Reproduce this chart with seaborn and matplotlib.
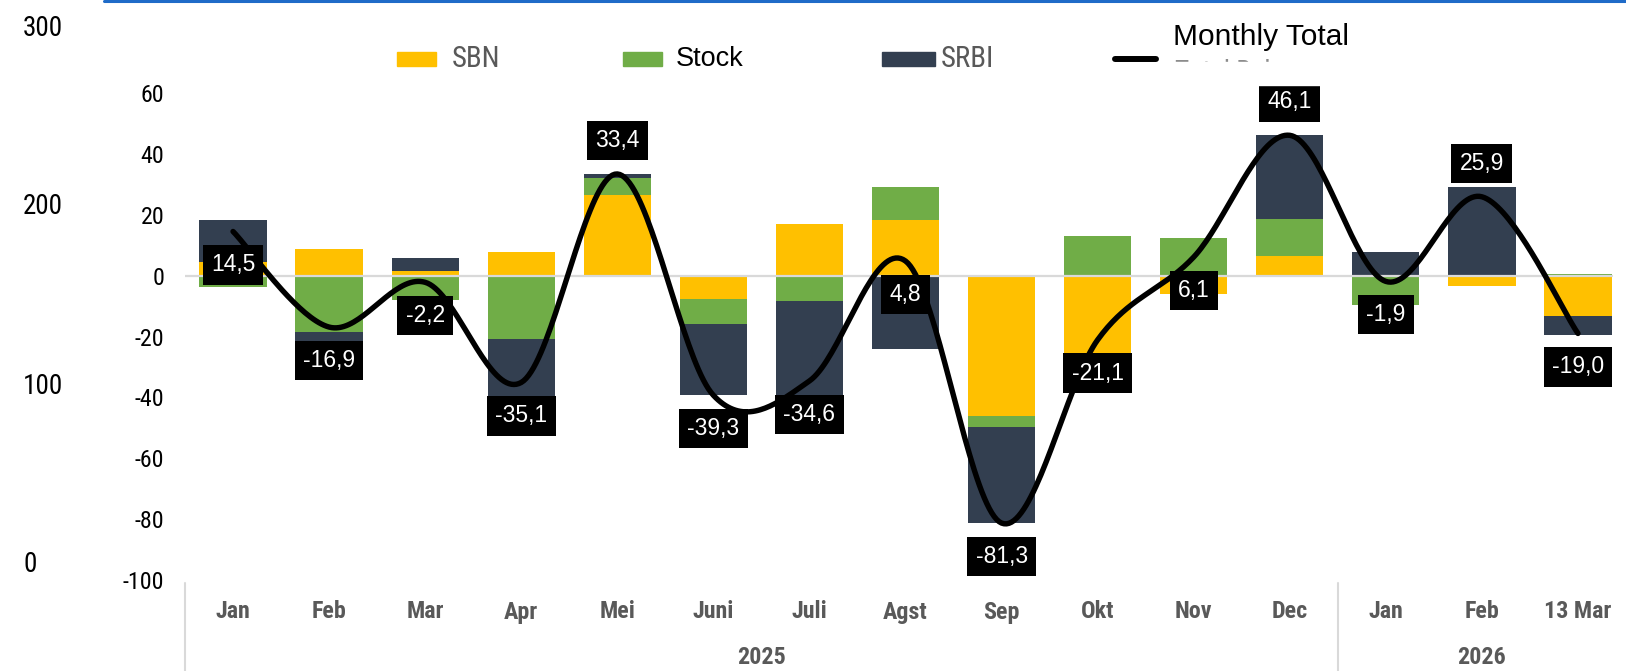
import numpy as np
import matplotlib
matplotlib.use("Agg")
import matplotlib.pyplot as plt
import matplotlib.transforms as mtransforms
from matplotlib import font_manager
from matplotlib.font_manager import FontProperties
from matplotlib.lines import Line2D
from matplotlib.patches import Rectangle
import seaborn as sns

# data (Rp trillion, monthly flows)
months = ["Jan", "Feb", "Mar", "Apr", "Mei", "Juni", "Juli", "Agst", "Sep",
          "Okt", "Nov", "Dec", "Jan", "Feb", "13 Mar"]
years = ["2025", "2026"]
year_span = [(0, 11), (12, 14)]
sbn = [4.6, 8.8, 1.5, 7.7, 26.5, -7.8, 17.0, 18.2, -46.0, -25.7, -6.0, 6.5, 0.0, -3.3, -13.2]
stock = [-3.7, -18.4, -7.9, -20.9, 5.6, -8.2, -8.5, 10.8, -3.6, 12.9, 12.2, 12.1, -9.8, 0.0, 0.5]
srbi = [13.6, -7.3, 4.2, -21.9, 1.3, -23.3, -43.1, -24.2, -31.7, -8.3, -0.1, 27.5, 7.9, 29.2, -6.3]
monthly_total = [14.5, -16.9, -2.2, -35.1, 33.4, -39.3, -34.6, 4.8, -81.3, -21.1, 6.1, 46.1, -1.9, 25.9, -19.0]
left_ticks = [-100, -80, -60, -40, -20, 0, 20, 40, 60]
outer_ticks = [0, 100, 200, 300]

SBN_C, STOCK_C, SRBI_C = "#FFC000", "#70AD47", "#333F50"
GREY = "#595959"

sns.set_theme(style="white")
plt.rcParams["font.family"] = ["Liberation Sans", "DejaVu Sans"]


def narrow_font(bold=False):
    # a condensed sans if the box has one, else plain Liberation Sans
    prefs = ["Liberation Sans Narrow", "Roboto Condensed", "Open Sans Condensed", "DejaVu Sans"]
    found = {}
    for f in font_manager.fontManager.ttflist:
        if f.stretch in ("normal", 500) or f.style != "normal":
            continue
        is_bold = f.weight in ("bold", 700) or (isinstance(f.weight, int) and f.weight >= 600)
        if is_bold == bold and f.name in prefs:
            found.setdefault(f.name, f.fname)
    for p in prefs:
        if p in found:
            return FontProperties(fname=found[p]), True
    return FontProperties(family="Liberation Sans", weight="bold" if bold else "normal"), False


NARROW, HAS_NARROW = narrow_font(False)
NARROW_B, HAS_NARROW_B = narrow_font(True)
k_n = 1.15 if HAS_NARROW else 1.0
k_b = 1.15 if HAS_NARROW_B else 1.0

W, H = 1626, 671


def fx(px):
    return px / W


def fy(py):
    return 1 - py / H


def fp(base, size):
    p = base.copy()
    p.set_size(size)
    return p


def smooth_curve(xs, ys, n=40):
    # Excel-like smoothed line (Catmull-Rom as cubic Bezier)
    pts = np.column_stack([xs, ys]).astype(float)
    padded = np.vstack([pts[0], pts, pts[-1]])
    t = np.linspace(0, 1, n)[:, None]
    out = []
    for i in range(len(pts) - 1):
        p0, p1, p2, p3 = padded[i:i + 4]
        c1 = p1 + (p2 - p0) / 6
        c2 = p2 - (p3 - p1) / 6
        seg = (1 - t) ** 3 * p1 + 3 * (1 - t) ** 2 * t * c1 + 3 * (1 - t) * t ** 2 * c2 + t ** 3 * p2
        out.append(seg if i == 0 else seg[1:])
    return np.vstack(out)


fig = plt.figure(figsize=(W / 100, H / 100), dpi=100)
ax = fig.add_axes([fx(185), fy(580), fx(W) - fx(185), (580 - 93) / H])
x = np.arange(len(months))

pos_base = np.zeros(len(x))
neg_base = np.zeros(len(x))
for vals, color in [(sbn, SBN_C), (stock, STOCK_C), (srbi, SRBI_C)]:
    vals = np.asarray(vals, dtype=float)
    bottom = np.where(vals >= 0, pos_base, neg_base)
    sns.barplot(x=x, y=vals, bottom=bottom, color=color, saturation=1, width=0.7,
                native_scale=True, errorbar=None, linewidth=0, ax=ax, zorder=2)
    pos_base += np.where(vals >= 0, vals, 0)
    neg_base += np.where(vals < 0, vals, 0)

ax.axhline(0, xmin=0, xmax=0.99, color="#D9D9D9", lw=1.6, zorder=2.5)

curve = smooth_curve(x, monthly_total)
sns.lineplot(x=curve[:, 0], y=curve[:, 1], sort=False, estimator=None, color="black",
             lw=3.9, ax=ax, zorder=4, solid_capstyle="round")

above = {4, 11, 13}
for i, v in enumerate(monthly_total):
    off = 24 if i in above else -24
    ax.annotate(f"{v:.1f}".replace(".", ","), xy=(i, v), xytext=(0, off),
                textcoords="offset points", ha="center", va="center", color="white",
                fontsize=16.5, zorder=6,
                bbox=dict(boxstyle="square,pad=0.36", fc="black", ec="none"))

ax.set_xlim(-0.5, 14.5)
ax.set_ylim(-100, 60)
ax.set_yticks(left_ticks)
ax.set_yticklabels([str(t) for t in left_ticks], color="black")
for lab in ax.get_yticklabels():
    lab.set_fontproperties(fp(NARROW, 15 * k_n))
ax.tick_params(axis="y", length=0, pad=15)
ax.set_xticks([])
ax.set_xlabel("")
ax.set_ylabel("")
for s in ax.spines.values():
    s.set_visible(False)
ax.patch.set_visible(False)

# multi-level category axis below the plot
trans = mtransforms.blended_transform_factory(ax.transData, fig.transFigure)
for i, m in enumerate(months):
    ax.text(i, fy(612), m, transform=trans, ha="center", va="center",
            fontproperties=fp(NARROW_B, 15 * k_b), color=GREY)
for yr, (a, b) in zip(years, year_span):
    ax.text((a + b) / 2, fy(658), yr, transform=trans, ha="center", va="center",
            fontproperties=fp(NARROW_B, 15 * k_b), color=GREY)
for xs in [-0.5, 11.5]:
    ax.add_line(Line2D([xs, xs], [fy(583), 0], transform=trans, color="#D9D9D9",
                       lw=1.5, clip_on=False))

# leftover outer axis 0-300
ax_out = fig.add_axes([fx(23), fy(562), 0.01, (562 - 25) / H])
ax_out.set_ylim(0, 300)
ax_out.set_yticks(outer_ticks)
ax_out.set_yticklabels([str(t) for t in outer_ticks], color="black", ha="left")
for lab in ax_out.get_yticklabels():
    lab.set_fontproperties(fp(NARROW, 17 * k_n))
ax_out.tick_params(axis="y", length=0, pad=0)
ax_out.set_xticks([])
ax_out.patch.set_visible(False)
for s in ax_out.spines.values():
    s.set_visible(False)

# legend drawn by hand
for (x0, x1), color in [((397, 436), SBN_C), ((623, 662), STOCK_C), ((882, 935), SRBI_C)]:
    fig.patches.append(Rectangle((fx(x0), fy(66)), fx(x1) - fx(x0), 14 / H,
                                 transform=fig.transFigure, color=color))
fig.text(fx(452), fy(59), "SBN", ha="left", va="center",
         fontproperties=fp(NARROW, 18 * k_n), color=GREY)
fig.text(fx(676), fy(59), "Stock", ha="left", va="center", fontsize=19.5, color="black")
fig.text(fx(941), fy(59), "SRBI", ha="left", va="center",
         fontproperties=fp(NARROW, 18 * k_n), color=GREY)
fig.lines.append(Line2D([fx(1115), fx(1156)], [fy(59), fy(59)], transform=fig.transFigure,
                        color="black", lw=4.3, solid_capstyle="round"))
fig.text(fx(1175), fy(58.5), "Total Bulanan", ha="left", va="top",
         fontproperties=fp(NARROW, 17 * k_n), color="#8C8C8C", zorder=5)
fig.patches.append(Rectangle((fx(1165), fy(85)), fx(1420) - fx(1165), (85 - 62) / H,
                             transform=fig.transFigure, color="white", zorder=10))
fig.text(fx(1173), fy(37), "Monthly Total", ha="left", va="center", fontsize=21.5,
         color="black", zorder=11)

fig.lines.append(Line2D([fx(104), 1], [fy(1.2), fy(1.2)], transform=fig.transFigure,
                        color="#1F6BC8", lw=2.2))

fig.savefig("out.png", dpi=100)
